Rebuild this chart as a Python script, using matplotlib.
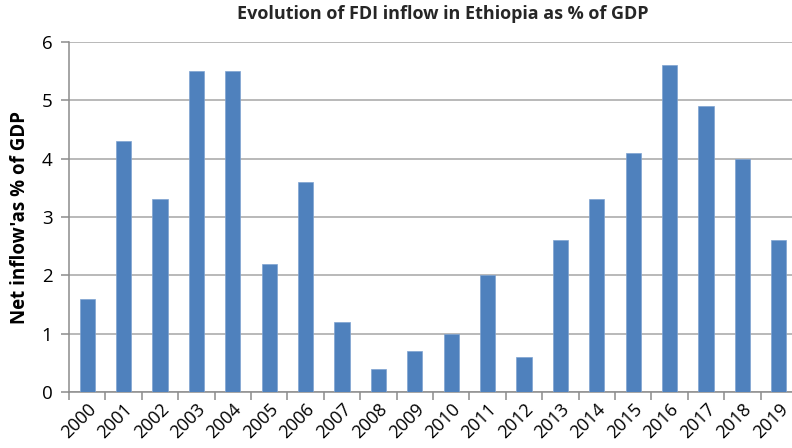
import numpy as np
import matplotlib.pyplot as plt

years = [str(y) for y in range(2000, 2020)]
fdi_pct = [1.6, 4.3, 3.3, 5.5, 5.5, 2.2, 3.6, 1.2, 0.4, 0.7,
           1.0, 2.0, 0.6, 2.6, 3.3, 4.1, 5.6, 4.9, 4.0, 2.6]

plt.rcParams['font.family'] = ['Open Sans', 'DejaVu Sans']

fig = plt.figure(figsize=(7.92, 4.48), dpi=100)
ax = fig.add_axes([69 / 792, 56 / 448, 728 / 792, 350 / 448])

x = np.arange(len(years))
ax.bar(x, fdi_pct, width=0.42, color='#4F81BD', edgecolor='#7FA3D1', linewidth=0.5, zorder=3)

ax.set_xlim(-0.5, len(years) - 0.5)
ax.set_ylim(0, 6)
ax.set_yticks(range(0, 7))
ax.yaxis.grid(True, color='#A6A6A6', linewidth=1.1, zorder=0)

# category ticks sit between the bars
ax.set_xticks(x)
ax.set_xticklabels(years, rotation=45, ha='right', rotation_mode='anchor', fontsize=13)
ax.set_xticks(np.arange(-0.5, len(years)), minor=True)
ax.tick_params(axis='x', which='major', length=0, pad=6)
ax.tick_params(axis='x', which='minor', length=6, color='#8C8C8C', width=1.1)
ax.tick_params(axis='y', length=6, color='#8C8C8C', width=1.1, labelsize=13.5, pad=6)

for side in ['top', 'right']:
    ax.spines[side].set_visible(False)
for side in ['left', 'bottom']:
    ax.spines[side].set_color('#8C8C8C')
    ax.spines[side].set_linewidth(1.1)

ax.set_ylabel("Net inflow'as % of GDP", fontsize=13.5, fontweight='bold', labelpad=8)
fig.text(443 / 792, 1 - 14 / 448, 'Evolution of FDI inflow in Ethiopia as % of GDP',
         ha='center', va='center', fontsize=13, fontweight='bold', color='#262626')

fig.savefig('out.png', dpi=100)
